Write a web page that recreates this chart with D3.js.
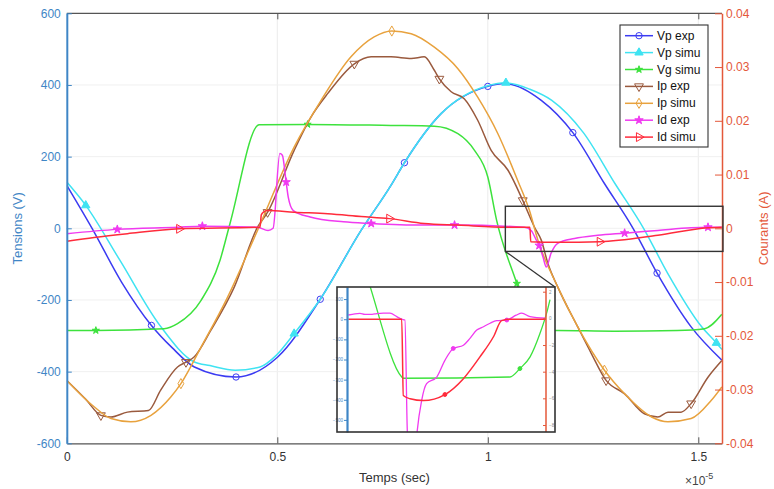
<!DOCTYPE html>
<html><head><meta charset="utf-8">
<script src="https://cdn.jsdelivr.net/npm/d3@7"></script>
<style>
body{margin:0;background:#fff;}
text{font-family:"Liberation Sans",Arial,Helvetica,sans-serif;}
</style>
</head><body>
<svg id="c" width="774" height="489"></svg>
<script>
// ---------------- DATA (time in units of 1e-5 s) ----------------
const xTicks = [0, 0.5, 1, 1.5];
const yLeftTicks = [-600, -400, -200, 0, 200, 400, 600];
const yRightTicks = [-0.04, -0.03, -0.02, -0.01, 0, 0.01, 0.02, 0.03, 0.04];

// Tensions (V), left axis
const vpExp = [[0,120],[0.06,0],[0.13,-150],[0.201,-271],[0.25,-333],[0.303,-387],[0.402,-415],[0.501,-359],[0.602,-198],[0.699,-6],[0.770,120],[0.802,183],[0.889,320],[1.0,396],[1.04,404],[1.127,357],[1.202,267],[1.277,125],[1.345,0],[1.402,-125],[1.483,-275],[1.556,-368]];
const vpExpMarks = [0.201,0.402,0.602,0.802,1.0,1.202,1.402];

const vpSimu = [[0,129],[0.045,64],[0.126,-89],[0.221,-271],[0.303,-373],[0.34,-383],[0.40,-396],[0.459,-387],[0.498,-354],[0.540,-294],[0.602,-198],[0.699,-6],[0.770,120],[0.802,183],[0.889,320],[1.0,398],[1.043,406],[1.10,388],[1.152,357],[1.227,267],[1.302,125],[1.37,0],[1.427,-125],[1.508,-275],[1.543,-320],[1.556,-338]];
const vpSimuMarks = [0.045,0.540,1.043,1.543];

const vgSimu = [[0,-285],[0.069,-285],[0.231,-280],[0.263,-266],[0.319,-201],[0.364,-89],[0.388,15],[0.457,289],[0.572,290],[0.77,287],[0.873,285],[0.929,264],[0.968,218],[1.0,143],[1.021,22],[1.069,-154],[1.106,-285],[1.166,-285],[1.30,-287],[1.45,-285],[1.515,-280],[1.556,-240]];
const vgSimuMarks = [0.069,0.572,1.069];

// Courants (A), right axis
const ipExp = [[0,-0.0283],[0.045,-0.0318],[0.081,-0.0348],[0.105,-0.0351],[0.144,-0.0342],[0.194,-0.0339],[0.223,-0.0301],[0.263,-0.0258],[0.283,-0.0249],[0.303,-0.0239],[0.342,-0.019],[0.398,-0.0109],[0.453,0.0002],[0.477,0.003],[0.54,0.0145],[0.58,0.0207],[0.62,0.0251],[0.683,0.0306],[0.723,0.0319],[0.77,0.0319],[0.818,0.0316],[0.849,0.0319],[0.873,0.0294],[0.885,0.0278],[0.913,0.0254],[0.944,0.0241],[0.976,0.0201],[1.008,0.0145],[1.048,0.0108],[1.083,0.0052],[1.111,0.0002],[1.127,-0.0022],[1.143,-0.0066],[1.166,-0.0109],[1.214,-0.0184],[1.246,-0.0233],[1.281,-0.0283],[1.325,-0.0308],[1.372,-0.0345],[1.404,-0.0351],[1.428,-0.0342],[1.459,-0.0342],[1.483,-0.0326],[1.523,-0.0277],[1.556,-0.0246]];
const ipExpMarks = [0.081,0.283,0.477,0.683,0.885,1.083,1.281,1.483];

const ipSimu = [[0,-0.0283],[0.065,-0.0332],[0.105,-0.0354],[0.152,-0.036],[0.2,-0.0348],[0.247,-0.0314],[0.271,-0.0289],[0.319,-0.0221],[0.382,-0.0128],[0.453,-0.0004],[0.54,0.0151],[0.604,0.0238],[0.675,0.0319],[0.73,0.0356],[0.772,0.0367],[0.818,0.0362],[0.873,0.0337],[0.929,0.0297],[0.976,0.0244],[1.024,0.0176],[1.071,0.0089],[1.099,0.0033],[1.119,-0.0022],[1.166,-0.0109],[1.214,-0.0184],[1.277,-0.0264],[1.325,-0.0308],[1.389,-0.0351],[1.428,-0.036],[1.483,-0.0354],[1.531,-0.032],[1.556,-0.0295]];
const ipSimuMarks = [0.271,0.772,1.277];

const idExp = [[0,-0.001],[0.12,-0.0002],[0.263,0.0002],[0.322,0.0004],[0.453,0.0002],[0.478,-0.0004],[0.49,0.0],[0.506,0.0139],[0.512,0.0136],[0.521,0.0086],[0.526,0.0058],[0.538,0.0033],[0.578,0.0021],[0.657,0.0012],[0.723,0.0009],[0.841,0.0006],[0.921,0.0006],[1.087,0.0002],[1.103,-0.0004],[1.114,-0.0020],[1.122,-0.0032],[1.131,-0.0053],[1.139,-0.0072],[1.15,-0.0047],[1.166,-0.0028],[1.206,-0.0019],[1.261,-0.0013],[1.325,-0.0009],[1.404,-0.0004],[1.483,0.0001],[1.523,0.0002],[1.556,0.0002]];
const idExpMarks = [0.12,0.322,0.521,0.723,0.921,1.122,1.325,1.523];

const idSimu = [[0,-0.0024],[0.065,-0.0017],[0.144,-0.001],[0.267,-0.0001],[0.459,0.0002],[0.462,0.0025],[0.467,0.003],[0.477,0.0033],[0.54,0.003],[0.62,0.0027],[0.699,0.0022],[0.766,0.0018],[0.849,0.0009],[0.929,0.0006],[1.048,0.0002],[1.100,0.0002],[1.102,-0.0025],[1.166,-0.0026],[1.266,-0.0025],[1.404,-0.0013],[1.523,0.0001],[1.556,0.0002]];
const idSimuMarks = [0.267,0.766,1.266];

// Inset (zoomed view) – normalised time u in [0,1], inset tension scale
const insetLeftTicks = [100, 0, -100, -200, -300, -400, -500];
const insetRightTicks = [2, 0, -2, -4, -6, -8];
const insetIdExp = [[0.007,21],[0.04,27],[0.065,29],[0.09,24],[0.126,24],[0.15,28],[0.183,30],[0.216,30],[0.25,13],[0.275,0],[0.291,-4],[0.303,-553],[0.308,-640],[0.317,-754],[0.337,-754],[0.353,-553],[0.375,-404],[0.4,-320],[0.451,-287],[0.492,-204],[0.534,-145],[0.585,-129],[0.618,-95],[0.652,-54],[0.68,-40],[0.719,-20],[0.752,-7],[0.803,-4],[0.85,20],[0.878,30],[0.92,13],[1.0,5]];
const insetIdExpMarks = [0.534,0.803];
const insetIdSimu = [[0.007,0],[0.275,0],[0.283,-379],[0.317,-395],[0.384,-404],[0.492,-374],[0.585,-295],[0.668,-187],[0.736,-87],[0.777,-7],[0.819,0],[1.0,0]];
const insetIdSimuMarks = [0.492];
const insetVgSimu = [[0.09,246],[0.116,163],[0.275,-287],[0.281,-293],[0.819,-287],[0.869,-245],[0.92,-187],[0.97,-70],[1.003,30],[1.02,97]];
const insetVgSimuMarks = [0.869];

// ---------------- CHART ----------------
const svg = d3.select("#c");
const M = {l:66.8, r:722, t:13.3, b:443.3};
const x = d3.scaleLinear().domain([0, 1.5563]).range([M.l, M.r]);
const yL = d3.scaleLinear().domain([-600, 600]).range([M.b, M.t]);
const yR = d3.scaleLinear().domain([-0.04, 0.04]).range([M.b, M.t]);

const C = {
  vpExp:"#3b3bf2", vpSimu:"#3fe3f2", vgSimu:"#3de23d",
  ipExp:"#9a5a3e", ipSimu:"#e8a23e", idExp:"#f03af0", idSimu:"#ff2b3b",
  blueAx:"#3f86c6", redAx:"#e4583a"
};

const defs = svg.append("defs");
defs.append("clipPath").attr("id","plotClip").append("rect")
  .attr("x",M.l).attr("y",M.t).attr("width",M.r-M.l).attr("height",M.b-M.t);

// grid
const grid = svg.append("g");
grid.selectAll("line.gx").data(xTicks.slice(1)).join("line")
  .attr("x1",d=>x(d)).attr("x2",d=>x(d)).attr("y1",M.t).attr("y2",M.b)
  .attr("stroke","#ececec").attr("stroke-width",1);
grid.selectAll("line.gy").data(yLeftTicks.slice(1,-1)).join("line")
  .attr("x1",M.l).attr("x2",M.r).attr("y1",d=>yL(d)).attr("y2",d=>yL(d))
  .attr("stroke","#f0f0f0").attr("stroke-width",1);

// marker shapes
function markerPath(type){
  switch(type){
    case "circle": return {d:d3.symbol(d3.symbolCircle,32)(), rot:0, fill:false};
    case "triUp": return {d:d3.symbol(d3.symbolTriangle,30)(), rot:0, fill:true};
    case "star": return {d:d3.symbol(d3.symbolStar,16)(), rot:0, fill:true};
    case "triDown": return {d:d3.symbol(d3.symbolTriangle,34)(), rot:180, fill:false};
    case "diamond": return {d:d3.symbol(d3.symbolDiamond,30)(), rot:0, fill:false};
    case "starM": return {d:d3.symbol(d3.symbolStar,22)(), rot:0, fill:true};
    case "dot": return {d:d3.symbol(d3.symbolCircle,12)(), rot:0, fill:true};
    case "triRight": return {d:d3.symbol(d3.symbolTriangle,34)(), rot:90, fill:false};
  }
}

const series = [
  {name:"Vp exp", data:vpExp, marks:vpExpMarks, y:yL, color:C.vpExp, m:"circle"},
  {name:"Vp simu", data:vpSimu, marks:vpSimuMarks, y:yL, color:C.vpSimu, m:"triUp"},
  {name:"Vg simu", data:vgSimu, marks:vgSimuMarks, y:yL, color:C.vgSimu, m:"star"},
  {name:"Ip exp", data:ipExp, marks:ipExpMarks, y:yR, color:C.ipExp, m:"triDown"},
  {name:"Ip simu", data:ipSimu, marks:ipSimuMarks, y:yR, color:C.ipSimu, m:"diamond"},
  {name:"Id exp", data:idExp, marks:idExpMarks, y:yR, color:C.idExp, m:"starM"},
  {name:"Id simu", data:idSimu, marks:idSimuMarks, y:yR, color:C.idSimu, m:"triRight"}
];

const curves = svg.append("g").attr("clip-path","url(#plotClip)");
function drawSeries(g, s, xs, ys){
  const line = d3.line().x(d=>xs(d[0])).y(d=>ys(d[1])).curve(d3.curveMonotoneX);
  g.append("path").datum(s.data).attr("d",line)
    .attr("fill","none").attr("stroke",s.color).attr("stroke-width",s.sw||1.5)
    .attr("stroke-linejoin","round");
  const mp = markerPath(s.m);
  const pts = s.data.filter(d=>s.marks.includes(d[0]));
  g.selectAll(null).data(pts).join("path")
    .attr("d",mp.d)
    .attr("transform",d=>`translate(${xs(d[0])},${ys(d[1])}) rotate(${mp.rot})`)
    .attr("fill",mp.fill?s.color:"none").attr("stroke",s.color).attr("stroke-width",1);
}
series.forEach(s=>drawSeries(curves, s, x, s.y));

// frame: top border
svg.append("line").attr("x1",M.l).attr("x2",M.r).attr("y1",M.t).attr("y2",M.t)
  .attr("stroke","#555").attr("stroke-width",1.3);

// axes
const axB = svg.append("g").attr("transform",`translate(0,${M.b})`)
  .call(d3.axisBottom(x).tickValues(xTicks).tickFormat(d=>String(d)).tickSizeInner(-6).tickSizeOuter(0).tickPadding(9));
axB.select(".domain").attr("stroke","#555").attr("stroke-width",1.3);
axB.selectAll(".tick line").attr("stroke","#555");
axB.selectAll("text").attr("font-size",12).attr("fill","#333").attr("font-family",null);

const axT = svg.append("g").attr("transform",`translate(0,${M.t})`)
  .call(d3.axisTop(x).tickValues(xTicks.slice(1)).tickFormat("").tickSizeInner(-6).tickSizeOuter(0));
axT.select(".domain").remove();
axT.selectAll(".tick line").attr("stroke","#555");

const axL = svg.append("g").attr("transform",`translate(${M.l},0)`)
  .call(d3.axisLeft(yL).tickValues(yLeftTicks).tickFormat(d=>String(d)).tickSizeInner(-5).tickSizeOuter(0).tickPadding(6));
axL.select(".domain").attr("stroke",C.blueAx).attr("stroke-width",2);
axL.selectAll(".tick line").attr("stroke",C.blueAx);
axL.selectAll("text").attr("font-size",12).attr("fill",C.blueAx).attr("font-family",null);

const axR = svg.append("g").attr("transform",`translate(${M.r},0)`)
  .call(d3.axisRight(yR).tickValues(yRightTicks).tickFormat(d=>d===0?"0":d.toFixed(2)).tickSizeInner(-7).tickSizeOuter(0).tickPadding(4));
axR.select(".domain").attr("stroke",C.redAx).attr("stroke-width",1.5);
axR.selectAll(".tick line").attr("stroke",C.redAx);
axR.selectAll("text").attr("font-size",12).attr("fill",C.redAx).attr("font-family",null);

// axis titles
svg.append("text").attr("transform",`translate(22,${(M.t+M.b)/2}) rotate(-90)`)
  .attr("text-anchor","middle").attr("font-size",13).attr("fill",C.blueAx).text("Tensions (V)");
svg.append("text").attr("transform",`translate(768,${(M.t+M.b)/2}) rotate(-90)`)
  .attr("text-anchor","middle").attr("font-size",13).attr("fill",C.redAx).text("Courants (A)");
svg.append("text").attr("x",(M.l+M.r)/2).attr("y",482)
  .attr("text-anchor","middle").attr("font-size",13).attr("fill","#333").text("Temps (sec)");
const ex = svg.append("text").attr("x",685).attr("y",485).attr("font-size",12).attr("fill","#444");
ex.append("tspan").text("\u00d710");
ex.append("tspan").attr("dy",-6).attr("font-size",9).text("-5");

// zoom box and connector
const boxT = 0.0041, boxB = -0.0043, boxX0 = 1.0417, boxX1 = 1.5586;
svg.append("rect").attr("x",x(boxX0)).attr("y",yR(boxT))
  .attr("width",x(boxX1)-x(boxX0)).attr("height",yR(boxB)-yR(boxT))
  .attr("fill","none").attr("stroke","#333").attr("stroke-width",1.4);

// inset
const IN = {l:337, r:555, t:287, b:432, al:347, ar:546};
svg.append("line").attr("x1",x(boxX0)).attr("y1",yR(boxB)).attr("x2",IN.r).attr("y2",IN.t)
  .attr("stroke","#333").attr("stroke-width",1.3);
const ig = svg.append("g");
ig.append("rect").attr("x",IN.l).attr("y",IN.t).attr("width",IN.r-IN.l).attr("height",IN.b-IN.t)
  .attr("fill","#fff");
defs.append("clipPath").attr("id","inClip").append("rect")
  .attr("x",IN.l).attr("y",IN.t).attr("width",IN.r-IN.l).attr("height",IN.b-IN.t);
const ix = d3.scaleLinear().domain([0,1]).range([IN.al, IN.ar]);
const iy = d3.scaleLinear().domain([-560,160]).range([IN.b, IN.t]);
const iyR = d3.scaleLinear().domain([-8,2]).range([425,291.7]);
const inCurves = ig.append("g").attr("clip-path","url(#inClip)");
[
  {data:insetVgSimu, marks:insetVgSimuMarks, color:C.vgSimu, m:"dot", sw:1.3},
  {data:insetIdExp, marks:insetIdExpMarks, color:C.idExp, m:"dot", sw:1.3},
  {data:insetIdSimu, marks:insetIdSimuMarks, color:C.idSimu, m:"dot", sw:1.5}
].forEach(s=>drawSeries(inCurves, s, ix, iy));
// inset axes
const iaL = ig.append("g").attr("transform",`translate(${IN.al},0)`)
  .call(d3.axisLeft(iy).tickValues(insetLeftTicks).tickSizeInner(3).tickSizeOuter(0).tickPadding(1));
iaL.select(".domain").attr("stroke",C.blueAx).attr("stroke-width",2.2);
iaL.selectAll(".tick line").attr("stroke",C.blueAx);
iaL.selectAll("text").attr("font-size",4.5).attr("fill",C.blueAx).attr("font-family",null);
const iaR = ig.append("g").attr("transform",`translate(${IN.ar},0)`)
  .call(d3.axisRight(iyR).tickValues(insetRightTicks).tickSizeInner(-3).tickSizeOuter(0).tickPadding(3));
iaR.select(".domain").attr("stroke",C.redAx).attr("stroke-width",1.5).attr("d",`M0,${IN.t}V${IN.b}`);
iaR.selectAll(".tick line").attr("stroke",C.redAx);
iaR.selectAll("text").attr("font-size",4.5).attr("fill","#888").attr("font-family",null);
ig.append("rect").attr("x",IN.l).attr("y",IN.t).attr("width",IN.r-IN.l).attr("height",IN.b-IN.t)
  .attr("fill","none").attr("stroke","#333").attr("stroke-width",1.6);

// legend
const LG = {x:620, y:25, w:88, h:122, row:16.9, y0:35.7};
const lg = svg.append("g");
lg.append("rect").attr("x",LG.x).attr("y",LG.y).attr("width",LG.w).attr("height",LG.h)
  .attr("fill","#fff").attr("stroke","#333").attr("stroke-width",1.1);
series.forEach((s,i)=>{
  const yy = LG.y0 + i*LG.row;
  lg.append("line").attr("x1",LG.x+5).attr("x2",LG.x+33).attr("y1",yy).attr("y2",yy)
    .attr("stroke",s.color).attr("stroke-width",1.5);
  const mp = markerPath(s.m);
  lg.append("path").attr("d",mp.d).attr("transform",`translate(${LG.x+19},${yy}) rotate(${mp.rot})`)
    .attr("fill",mp.fill?s.color:"none").attr("stroke",s.color).attr("stroke-width",1);
  lg.append("text").attr("x",LG.x+37).attr("y",yy+4).attr("font-size",12).attr("fill","#111").text(s.name);
});
</script>
</body></html>
